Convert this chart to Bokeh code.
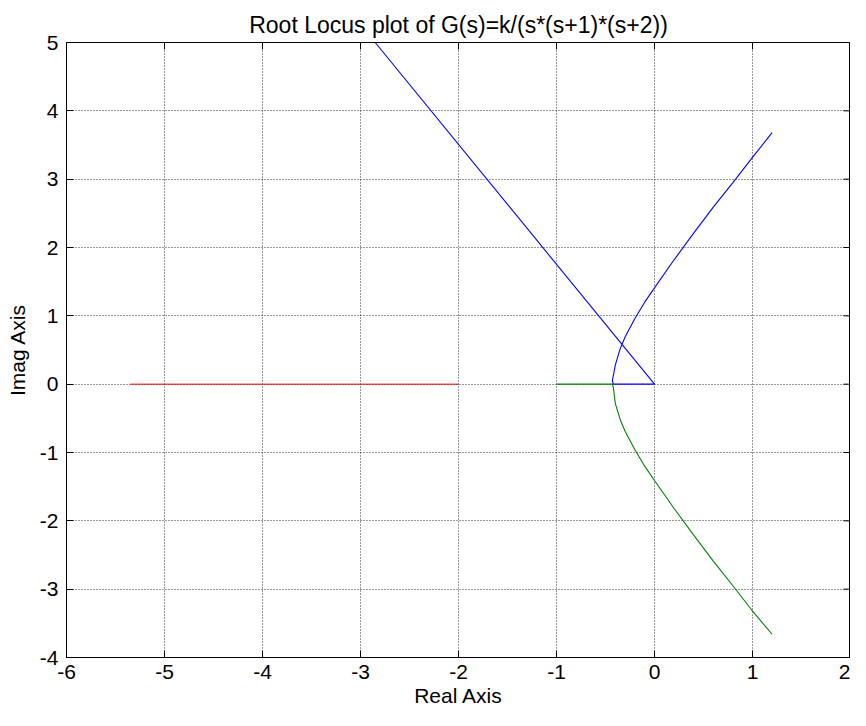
from bokeh.plotting import figure
from bokeh.models import Range1d, FixedTicker
from bokeh.embed import file_html
from bokeh.resources import INLINE

# Branch 1 (blue): from far asymptote point through origin, to breakaway, then up
blue_x = [-2.85, 0.0, -0.42, -0.43, -0.40, -0.35, -0.30, -0.20, -0.10, 0.0, 0.2, 0.4, 0.6, 0.8, 1.0, 1.2]
blue_y = [5.0, 0.0, 0.0, 0.05, 0.28, 0.52, 0.69, 0.96, 1.20, 1.41, 1.82, 2.21, 2.59, 2.95, 3.32, 3.68]
# Branch 2 (green): from -1 to breakaway, then down
green_x = [-1.0, -0.43, -0.42, -0.40, -0.35, -0.30, -0.20, -0.10, 0.0, 0.2, 0.4, 0.6, 0.8, 1.0, 1.2]
green_y = [0.0, 0.0, -0.05, -0.28, -0.52, -0.69, -0.96, -1.20, -1.41, -1.82, -2.21, -2.59, -2.95, -3.32, -3.66]
# Branch 3 (red): from -2 along the negative real axis
red_x = [-2.0, -5.35]
red_y = [0.0, 0.0]

x_ticks = [-6, -5, -4, -3, -2, -1, 0, 1, 2]
y_ticks = [-4, -3, -2, -1, 0, 1, 2, 3, 4, 5]
x_min, x_max = -6, 2
y_min, y_max = -4, 5

FONT = "Liberation Sans"

p = figure(width=850, height=710, output_backend="svg", toolbar_location=None,
           x_range=Range1d(x_min, x_max), y_range=Range1d(y_min, y_max),
           title="Root Locus plot of G(s)=k/(s*(s+1)*(s+2))",
           min_border_left=66, min_border_right=0, min_border_top=42, min_border_bottom=53,
           x_axis_label="Real Axis", y_axis_label="Imag Axis")

p.title.align = "center"
p.title.text_font = FONT
p.title.text_font_size = "23px"
p.title.text_font_style = "normal"
p.title.text_color = "black"
p.title.standoff = 10

p.outline_line_color = "black"
p.outline_line_width = 1
p.background_fill_color = "white"
p.border_fill_color = "white"

def style_axis(ax, ticks):
    ax.ticker = FixedTicker(ticks=ticks)
    ax.major_label_overrides = {t: str(t) for t in ticks}
    ax.minor_tick_line_color = None
    ax.major_tick_in = 7
    ax.major_tick_out = 0
    ax.major_tick_line_color = "black"
    ax.axis_line_color = "black"
    ax.major_label_text_font = FONT
    ax.major_label_text_font_size = "21px"
    ax.major_label_text_color = "black"
    ax.axis_label_text_font = FONT
    ax.axis_label_text_font_size = "21px"
    ax.axis_label_text_font_style = "normal"
    ax.axis_label_text_color = "black"

style_axis(p.xaxis[0], x_ticks)
style_axis(p.yaxis[0], y_ticks)
p.xaxis[0].major_label_standoff = 7
p.yaxis[0].major_label_standoff = 8
p.xaxis[0].axis_label_standoff = 2
p.yaxis[0].axis_label_standoff = 8

for g in p.grid:
    g.grid_line_color = "black"
    g.grid_line_dash = "1 2"
    g.grid_line_width = 1
    g.grid_line_alpha = 0.8
p.xgrid.ticker = FixedTicker(ticks=x_ticks)
p.ygrid.ticker = FixedTicker(ticks=y_ticks)

# inward tick marks on the top and right edges of the box (MATLAB style)
tick_len_x = (x_max - x_min) * 7 / 784
tick_len_y = (y_max - y_min) * 7 / 615
p.segment(x0=x_ticks, y0=[y_max] * len(x_ticks), x1=x_ticks, y1=[y_max - tick_len_y] * len(x_ticks),
          line_color="black", line_width=1)
p.segment(x0=[x_max] * len(y_ticks), y0=y_ticks, x1=[x_max - tick_len_x] * len(y_ticks), y1=y_ticks,
          line_color="black", line_width=1)

p.line(red_x, red_y, line_color="#ff0000", line_width=1)
p.line(green_x, green_y, line_color="#008000", line_width=1.1)
p.line(blue_x, blue_y, line_color="#0000ff", line_width=1.1)

open("out.html", "w").write(file_html(p, INLINE))
